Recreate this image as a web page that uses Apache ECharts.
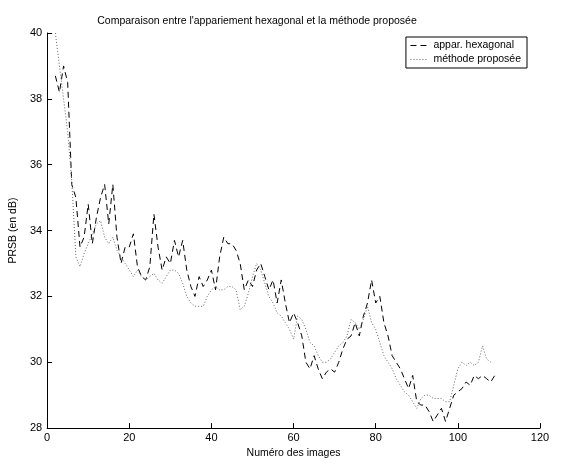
<!DOCTYPE html>
<html>
<head>
<meta charset="utf-8">
<style>html,body{margin:0;padding:0;background:#fff}#main{width:565px;height:464px}</style>
<script src="https://cdn.jsdelivr.net/npm/echarts@6/dist/echarts.min.js"></script>
</head>
<body>
<div id="main"></div>
<script>
var imageIdx = [];
for (var i = 1; i <= 109; i++) imageIdx.push(i);

var hexaValues = [null, 38.7, 38.2, 39.0, 38.5, 35.4, 35.0, 33.5, 33.8, 34.8,
  33.6, 34.4, 35.0, 35.4, 34.2, 35.4, 33.8, 33.0, 33.5, 33.5,
  33.9, 32.9, 32.6, 32.5, 32.9, 34.5, 33.5, 32.8, 33.2, 33.0,
  33.7, 33.2, 33.7, 32.8, 32.3, 32.0, 32.6, 32.3, 32.5, 32.8,
  32.2, 33.2, 33.8, 33.6, 33.6, 33.4, 33.0, 32.2, 32.5, 32.3,
  32.8, 33.0, 32.6, 32.2, 32.5, 31.8, 32.5, 31.8, 31.2, 31.5,
  31.2, 30.8, 30.0, 29.8, 30.2, 29.8, 29.5, 29.7, 29.8, 29.7,
  30.0, 30.4, 30.7, 30.8, 31.2, 30.8, 31.4, 31.8, 32.5, 31.8,
  32.0, 31.2, 30.8, 30.2, 30.0, 29.8, 29.5, 29.2, 29.6, 28.8,
  28.7, 28.7, 28.5, 28.2, 28.4, 28.6, 28.2, 28.6, 29.0, 29.1,
  29.2, 29.4, 29.3, 29.6, 29.5, 29.6, 29.5, 29.4, 29.6];

var proposedValues = [null, 40.0, 39.0, 38.0, 37.0, 35.5, 33.2, 32.9, 33.3, 33.6,
  33.9, 34.2, 34.3, 33.8, 33.6, 33.8, 33.4, 33.2, 33.0, 32.8,
  32.6, 32.8, 32.6, 32.5, 32.6, 32.7, 32.5, 32.4, 32.6, 32.8,
  32.8, 32.7, 32.4, 32.0, 31.8, 31.7, 31.7, 31.7, 32.0, 32.2,
  32.3, 32.2, 32.2, 32.3, 32.3, 32.2, 31.6, 31.7, 32.1, 32.6,
  33.0, 32.8, 32.4, 32.0, 31.8, 31.5, 31.4, 31.2, 31.0, 30.7,
  31.4, 31.3, 31.0, 30.6, 30.5, 30.2, 30.0, 30.0, 30.1, 30.3,
  30.5, 30.6, 30.8, 31.3, 31.2, 31.0, 31.3, 31.7, 31.2, 31.0,
  30.6, 30.2, 30.0, 29.8, 29.5, 29.3, 29.1, 29.0, 28.8, 28.6,
  28.9, 29.0, 29.0, 28.9, 28.9, 28.9, 28.8, 28.8, 29.3, 29.8,
  30.0, 29.9, 30.0, 29.9, 30.0, 30.5, 30.1, 30.0, null];

var seriesNames = ['appar. hexagonal', 'méthode proposée'];

function pairs(vals) {
  return imageIdx.map(function (x, k) { return [x, vals[k]]; });
}

var font = 'Liberation Sans, Arial, sans-serif';
var myChart = echarts.init(document.getElementById('main'));

var option = {
  animation: false,
  textStyle: { fontFamily: font },
  title: {
    text: "Comparaison entre l'appariement hexagonal et la méthode proposée",
    left: 252, top: 11, textAlign: 'center',
    textStyle: { fontSize: 10.5, fontWeight: 'normal', color: '#000', fontFamily: font }
  },
  grid: { left: 43, right: 25, top: 33, bottom: 31 },
  legend: {
    right: 38, top: 37, orient: 'vertical',
    data: seriesNames,
    itemWidth: 18, itemHeight: 8, itemGap: 3,
    itemStyle: { opacity: 0 },
    lineStyle: { width: 1 },
    backgroundColor: '#fff', borderColor: '#000', borderWidth: 1, borderRadius: 0,
    padding: [3, 6, 3, 4],
    textStyle: { fontSize: 10.5, color: '#000', fontFamily: font }
  },
  xAxis: {
    type: 'value', min: 0, max: 120, interval: 20,
    name: 'Numéro des images', nameLocation: 'middle', nameGap: 19,
    nameTextStyle: { fontSize: 10.5, color: '#000' },
    axisLine: { onZero: false, lineStyle: { color: '#000' } },
    axisTick: { inside: true, length: 5, lineStyle: { color: '#000' } },
    axisLabel: { fontSize: 11, color: '#000', margin: 4 },
    splitLine: { show: false }
  },
  yAxis: {
    type: 'value', min: 28, max: 40, interval: 2,
    name: 'PRSB (en dB)', nameLocation: 'middle', nameGap: 26,
    nameTextStyle: { fontSize: 10.5, color: '#000' },
    axisLine: { show: true, onZero: false, lineStyle: { color: '#000' } },
    axisTick: { show: true, inside: true, length: 5, lineStyle: { color: '#000' } },
    axisLabel: { fontSize: 11, color: '#000', margin: 5 },
    splitLine: { show: false }
  },
  series: [
    {
      name: seriesNames[0], type: 'line', data: pairs(hexaValues),
      symbol: 'none',
      lineStyle: { color: '#000', width: 1, type: [6, 4] },
      itemStyle: { color: '#000' }
    },
    {
      name: seriesNames[1], type: 'line', data: pairs(proposedValues),
      symbol: 'none',
      lineStyle: { color: '#666', width: 1, type: [1, 2] },
      itemStyle: { color: '#666' }
    }
  ]
};

myChart.setOption(option);
</script>
</body>
</html>
